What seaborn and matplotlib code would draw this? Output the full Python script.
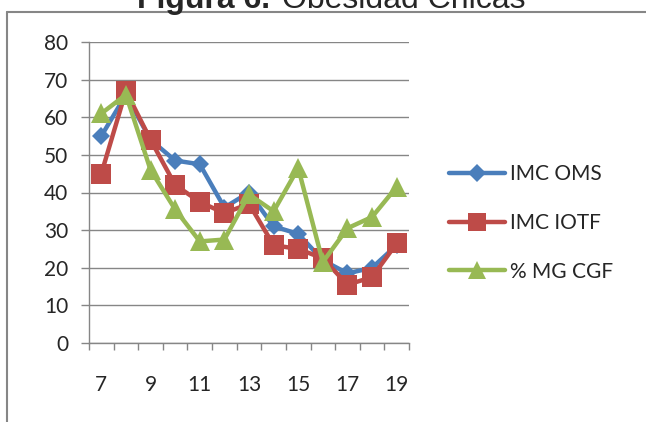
import numpy as np
import pandas as pd
import matplotlib
matplotlib.use("Agg")
import matplotlib.pyplot as plt
from matplotlib.lines import Line2D
import seaborn as sns

EDADES = [7, 8, 9, 10, 11, 12, 13, 14, 15, 16, 17, 18, 19]
IMC_OMS = [55, 66, 54, 48.5, 47.5, 36, 40, 31, 29, 22, 18.5, 20, 26]
IMC_IOTF = [45, 67, 54, 42, 37.5, 34.5, 37, 26, 25, 22.5, 15.5, 17.5, 26.5]
MG_CGF = [61, 66, 46, 35.5, 27, 27.5, 39.5, 35, 46.5, 21.5, 30.5, 33.5, 41.5]

SERIES = ["IMC OMS", "IMC IOTF", "% MG CGF"]
COLORS = ["#4A7EBB", "#BE4B48", "#98B954"]

df = pd.DataFrame({
    "edad": EDADES * 3,
    "valor": IMC_OMS + IMC_IOTF + MG_CGF,
    "serie": [SERIES[0]] * 13 + [SERIES[1]] * 13 + [SERIES[2]] * 13,
})

sns.set_theme(style="white")
plt.rcParams["font.family"] = ["Lato", "DejaVu Sans"]

fig = plt.figure(figsize=(6.46, 4.22), dpi=100)
ax = fig.add_axes([89 / 646, 1 - 343 / 422, 320 / 646, 301 / 422])

sns.lineplot(data=df, x="edad", y="valor", hue="serie", style="serie",
             hue_order=SERIES, style_order=SERIES,
             palette=COLORS, markers={"IMC OMS": "D", "IMC IOTF": "s", "% MG CGF": "^"},
             dashes=False, lw=3.2, markeredgewidth=0, ax=ax, legend=False)
for line, ms in zip(ax.lines, [9, 14, 15]):
    line.set_markersize(ms)

grid_col = "#868686"
ax.set_xlim(6.5, 19.5)
ax.set_ylim(0, 80)
ax.set_yticks(np.arange(0, 81, 10))
ax.set_xticks(np.arange(6.5, 19.6, 1))
ax.set_xticklabels([])
ax.set_xticks(EDADES[::2], minor=True)
ax.set_xticklabels([str(e) for e in EDADES[::2]], minor=True)
ax.tick_params(axis="x", which="major", direction="out", length=5, width=1, color=grid_col, bottom=True)
ax.tick_params(axis="x", which="minor", length=0, pad=23, labelsize=15)
ax.tick_params(axis="y", direction="out", length=6, width=1, color=grid_col, left=True, labelsize=15, pad=9)
ax.yaxis.grid(True, color=grid_col, lw=1)
ax.set_axisbelow(True)
for s in ["top", "right"]:
    ax.spines[s].set_visible(False)
for s in ["left", "bottom"]:
    ax.spines[s].set_color(grid_col)
    ax.spines[s].set_linewidth(1)
ax.set_xlabel("")
ax.set_ylabel("")

handles = [Line2D([], [], color=c, lw=3.2, marker=m, ms=ms, markeredgewidth=0)
           for c, m, ms in zip(COLORS, ["D", "s", "^"], [9, 13, 13])]
fig.legend(handles, SERIES, loc="center left", bbox_to_anchor=(449 / 646, 1 - 223 / 422),
           frameon=False, fontsize=15, handlelength=2.7, handletextpad=0.25,
           labelspacing=1.38, borderaxespad=0, borderpad=0)

# chart frame (partly outside the image)
fig.add_artist(Line2D([7 / 646, 7 / 646], [0, 1 - 12 / 422], transform=fig.transFigure, color=grid_col, lw=1.5))
fig.add_artist(Line2D([7 / 646, 1], [1 - 12 / 422, 1 - 12 / 422], transform=fig.transFigure, color=grid_col, lw=1.5))

# title, cut at the top as in the source
fig.text(137 / 646, 1 - 8 / 422, "Figura 6.", fontsize=23, fontweight="bold",
         family="Liberation Sans", ha="left", va="baseline")
fig.text(282 / 646, 1 - 8 / 422, "Obesidad Chicas", fontsize=23,
         family="Liberation Sans", ha="left", va="baseline")

fig.savefig("out.png", dpi=100)
